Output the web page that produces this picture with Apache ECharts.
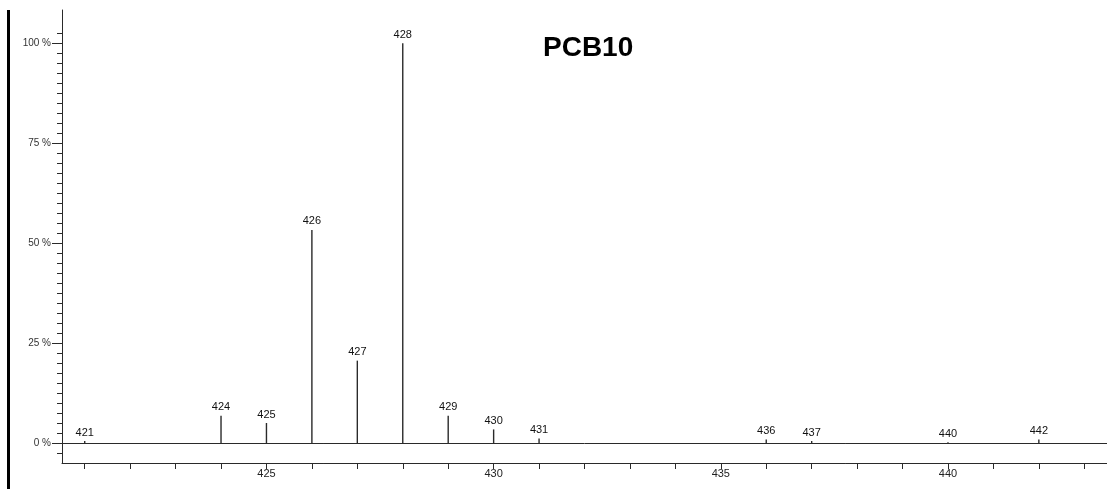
<!DOCTYPE html>
<html>
<head>
<meta charset="utf-8">
<script src="https://cdn.jsdelivr.net/npm/echarts@6/dist/echarts.min.js"></script>
<style>
  html, body { margin: 0; padding: 0; background: #fff; }
  #chart { width: 1107px; height: 489px; }
</style>
</head>
<body>
<div id="chart"></div>
<script>
// m/z of each peak and its relative intensity (%)
const masses = [421, 424, 425, 426, 427, 428, 429, 430, 431, 436, 437, 440, 442]
const intensities = [0.5, 6.8, 5.0, 53.3, 20.6, 100, 6.8, 3.4, 1.1, 0.9, 0.5, 0.2, 0.9]

const xLabels = [425, 430, 435, 440]
const xTicks = [421, 422, 423, 424, 425, 426, 427, 428, 429, 430, 431, 432, 433, 434, 435, 436, 437, 438, 439, 440, 441, 442, 443]
const yLabels = [0, 25, 50, 75, 100]
const yMinorTicks = []
for (let v = -2.5; v <= 102.5; v += 2.5) yMinorTicks.push(v)

const title = 'PCB10'
const ink = '#2a2a2a'

const chart = echarts.init(document.getElementById('chart'))

const xRange = { min: 420.5, max: 443.5 }
const yRange = { min: -5, max: 108.3 }

chart.setOption({
  animation: false,
  title: {
    text: title,
    left: 538,
    top: 29,
    textStyle: { fontFamily: 'Liberation Sans', fontSize: 28, fontWeight: 'bold', color: '#000' }
  },
  grid: { left: 62, right: 0, top: 10, bottom: 26 },
  xAxis: [{
    type: 'value',
    ...xRange,
    axisLine: { onZero: false, lineStyle: { color: ink, width: 1 } },
    axisTick: { customValues: xTicks, length: 6, lineStyle: { color: ink } },
    axisLabel: {
      customValues: xLabels,
      margin: 5,
      fontFamily: 'Liberation Sans',
      fontSize: 11,
      color: '#222'
    },
    splitLine: { show: false }
  }, {
    // baseline at 0 %
    type: 'value',
    ...xRange,
    position: 'bottom',
    axisLine: { onZero: true, lineStyle: { color: ink, width: 1 } },
    axisTick: { show: false },
    axisLabel: { show: false },
    splitLine: { show: false }
  }],
  yAxis: [{
    type: 'value',
    ...yRange,
    axisLine: { show: true, lineStyle: { color: ink, width: 1 } },
    axisTick: { customValues: yMinorTicks, length: 5, lineStyle: { color: ink } },
    axisLabel: { show: false },
    splitLine: { show: false }
  }, {
    type: 'value',
    ...yRange,
    position: 'left',
    axisLine: { show: false },
    axisTick: { customValues: yLabels, length: 10, lineStyle: { color: ink } },
    axisLabel: {
      customValues: yLabels,
      formatter: v => v + ' %',
      margin: 11,
      fontFamily: 'Liberation Sans',
      fontSize: 10,
      color: '#333'
    },
    splitLine: { show: false }
  }],
  series: [{
    type: 'bar',
    xAxisIndex: 0,
    yAxisIndex: 0,
    barWidth: 1.4,
    itemStyle: { color: ink },
    label: {
      show: true,
      position: 'top',
      distance: 3,
      formatter: p => p.value[0],
      fontFamily: 'Liberation Sans',
      fontSize: 11,
      color: '#111'
    },
    data: masses.map((m, i) => [m, intensities[i]])
  }],
  graphic: [{
    type: 'rect',
    shape: { x: 7, y: 10, width: 3, height: 479 },
    style: { fill: '#000' }
  }]
})
</script>
</body>
</html>
